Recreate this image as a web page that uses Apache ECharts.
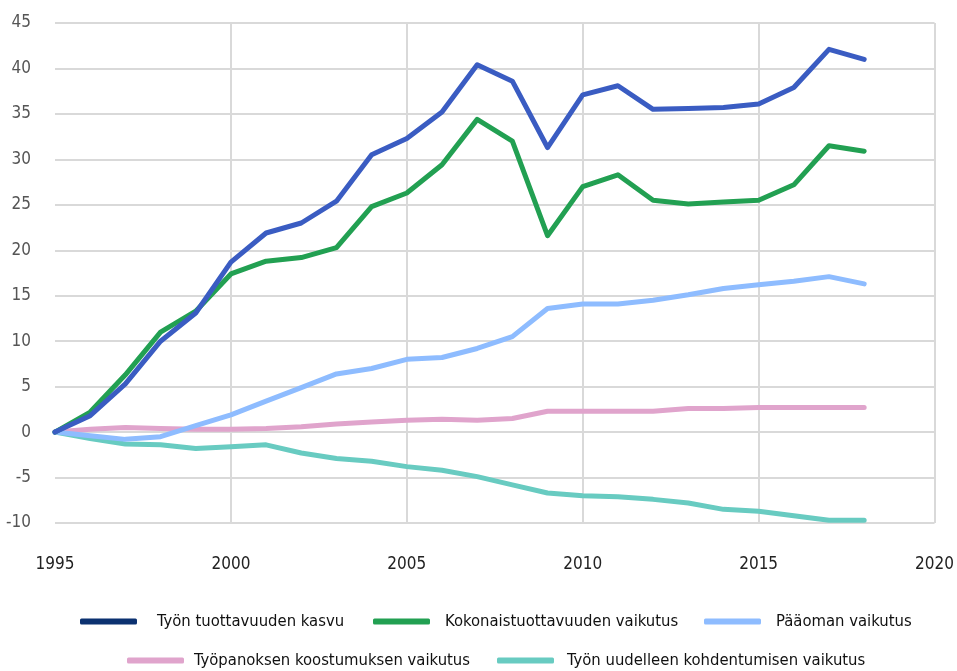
<!DOCTYPE html>
<html lang="fi">
<head>
    <meta charset="utf-8">
    <title>Työn tuottavuuden kasvu</title>
    <script src="https://cdn.jsdelivr.net/npm/echarts@6/dist/echarts.min.js"></script>
    <style>
        html, body { margin: 0; padding: 0; background: #fff; }
        #chart { width: 957px; height: 671px; }
    </style>
</head>
<body>
<div id="chart"></div>
<script type="text/javascript">
    var years = [1995, 1996, 1997, 1998, 1999, 2000, 2001, 2002, 2003, 2004, 2005, 2006,
                 2007, 2008, 2009, 2010, 2011, 2012, 2013, 2014, 2015, 2016, 2017, 2018];

    var seriesNames = [
        'Työn tuottavuuden kasvu',
        'Kokonaistuottavuuden vaikutus',
        'Pääoman vaikutus',
        'Työpanoksen koostumuksen vaikutus',
        'Työn uudelleen kohdentumisen vaikutus'
    ];

    var tuottavuus = [0, 1.8, 5.3, 10.0, 13.1, 18.7, 21.9, 23.0, 25.4, 30.5, 32.3, 35.2,
                      40.4, 38.6, 31.3, 37.1, 38.1, 35.5, 35.6, 35.7, 36.1, 37.9, 42.1, 41.0];
    var kokonais = [0, 2.2, 6.3, 11.0, 13.3, 17.4, 18.8, 19.2, 20.3, 24.8, 26.3, 29.4,
                    34.4, 32.0, 21.6, 27.0, 28.3, 25.5, 25.1, 25.3, 25.5, 27.2, 31.5, 30.9];
    var paaoma = [0, -0.4, -0.8, -0.5, 0.7, 1.9, 3.4, 4.9, 6.4, 7.0, 8.0, 8.2,
                  9.2, 10.5, 13.6, 14.1, 14.1, 14.5, 15.1, 15.8, 16.2, 16.6, 17.1, 16.3];
    var tyopanos = [0, 0.3, 0.5, 0.4, 0.3, 0.3, 0.4, 0.6, 0.9, 1.1, 1.3, 1.4,
                    1.3, 1.5, 2.3, 2.3, 2.3, 2.3, 2.6, 2.6, 2.7, 2.7, 2.7, 2.7];
    var kohdentuminen = [0, -0.7, -1.3, -1.4, -1.8, -1.6, -1.4, -2.3, -2.9, -3.2, -3.8, -4.2,
                         -4.9, -5.8, -6.7, -7.0, -7.1, -7.4, -7.8, -8.5, -8.7, -9.2, -9.7, -9.7];

    var lineColors = ['#3a5cc2', '#22a052', '#8ebcff', '#e0a4cc', '#68cbc1'];
    var legendColors = ['#0b3170', '#22a052', '#8ebcff', '#e0a4cc', '#68cbc1'];

    // selitteen paikat (vasen reuna, ylä, tekstin lisäväli)
    var legendLeft = [80, 373, 704, 127, 497];
    var legendTop = [613, 613, 613, 652, 652];
    var legendPad = [15, 10, 10, 5, 8];

    var font = '"Liberation Sans Narrow", "DejaVu Sans Condensed", sans-serif';

    function pairs(vals) {
        var out = [];
        for (var i = 0; i < years.length; i++) {
            out.push([years[i], vals[i]]);
        }
        return out;
    }

    var allValues = [tuottavuus, kokonais, paaoma, tyopanos, kohdentuminen];

    var myChart = echarts.init(document.getElementById('chart'));

    var legends = [];
    for (var k = 0; k < seriesNames.length; k++) {
        legends.push({
            data: [{ name: seriesNames[k], itemStyle: { color: legendColors[k] } }],
            left: legendLeft[k],
            top: legendTop[k],
            icon: 'roundRect',
            itemWidth: 57,
            itemHeight: 6,
            selectedMode: false,
            padding: 0,
            textStyle: { fontFamily: font, fontSize: 16.5, color: '#111', padding: [0, 0, 0, legendPad[k]] }
        });
    }

    option = {
        animation: false,
        grid: { left: 55, right: 20, top: 23, bottom: 148, containLabel: false },
        legend: legends,
        xAxis: {
            type: 'value',
            min: 1995,
            max: 2020,
            interval: 5,
            axisLine: { show: false },
            axisTick: { show: false },
            axisLabel: {
                fontFamily: font, fontSize: 17, color: '#222', margin: 33,
                formatter: function (v) { return String(v); }
            },
            splitLine: { show: true, showMinLine: false, lineStyle: { color: '#d9d9d9', width: 2 } }
        },
        yAxis: {
            type: 'value',
            min: -10,
            max: 45,
            interval: 5,
            axisLine: { show: false },
            axisTick: { show: false },
            axisLabel: { fontFamily: font, fontSize: 17, color: '#555', margin: 24 },
            splitLine: { show: true, lineStyle: { color: '#d9d9d9', width: 2 } }
        },
        series: []
    };

    // alimmat viivat piirretään ensin
    var order = [4, 3, 2, 1, 0];
    order.forEach(function (i) {
        option.series.push({
            name: seriesNames[i],
            type: 'line',
            data: pairs(allValues[i]),
            showSymbol: false,
            symbol: 'none',
            itemStyle: { color: lineColors[i] },
            lineStyle: { color: lineColors[i], width: 5, cap: 'round', join: 'round' },
            z: 10 - i
        });
    });

    myChart.setOption(option);
</script>
</body>
</html>
